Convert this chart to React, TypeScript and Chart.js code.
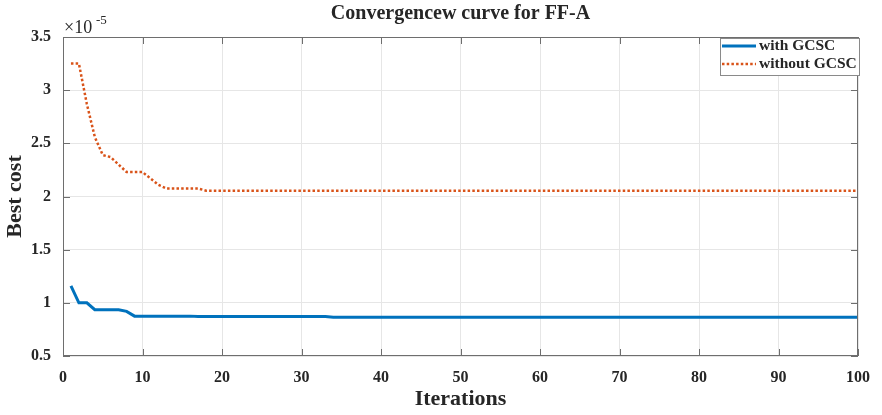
import React, { useEffect, useRef } from "react";
import { Chart, registerables } from "chart.js";

Chart.register(...registerables);

// Best cost per iteration, in units of 1e-5
const ITERATIONS: number[] = Array.from({ length: 100 }, (_, i) => i + 1);

const WITH_GCSC: number[] = [
  1.16, 1.0, 1.0, 0.935, 0.935, 0.935, 0.935, 0.92, 0.875, 0.875,
  0.875, 0.875, 0.875, 0.875, 0.875, 0.875, 0.872, 0.872, 0.872, 0.872,
  0.872, 0.872, 0.872, 0.872, 0.872, 0.872, 0.872, 0.872, 0.872, 0.872,
  0.872, 0.872, 0.872, 0.865, 0.865, 0.865, 0.865, 0.865, 0.865, 0.865,
  0.865, 0.865, 0.865, 0.865, 0.865, 0.865, 0.865, 0.865, 0.865, 0.865,
  0.865, 0.865, 0.865, 0.865, 0.865, 0.865, 0.865, 0.865, 0.865, 0.865,
  0.865, 0.865, 0.865, 0.865, 0.865, 0.865, 0.865, 0.865, 0.865, 0.865,
  0.865, 0.865, 0.865, 0.865, 0.865, 0.865, 0.865, 0.865, 0.865, 0.865,
  0.865, 0.865, 0.865, 0.865, 0.865, 0.865, 0.865, 0.865, 0.865, 0.865,
  0.865, 0.865, 0.865, 0.865, 0.865, 0.865, 0.865, 0.865, 0.865, 0.865,
];

const WITHOUT_GCSC: number[] = [
  3.25, 3.25, 2.87, 2.56, 2.39, 2.37, 2.3, 2.23, 2.23, 2.23,
  2.17, 2.11, 2.075, 2.075, 2.075, 2.075, 2.075, 2.055, 2.055, 2.055,
  2.055, 2.055, 2.055, 2.055, 2.055, 2.055, 2.055, 2.055, 2.055, 2.055,
  2.055, 2.055, 2.055, 2.055, 2.055, 2.055, 2.055, 2.055, 2.055, 2.055,
  2.055, 2.055, 2.055, 2.055, 2.055, 2.055, 2.055, 2.055, 2.055, 2.055,
  2.055, 2.055, 2.055, 2.055, 2.055, 2.055, 2.055, 2.055, 2.055, 2.055,
  2.055, 2.055, 2.055, 2.055, 2.055, 2.055, 2.055, 2.055, 2.055, 2.055,
  2.055, 2.055, 2.055, 2.055, 2.055, 2.055, 2.055, 2.055, 2.055, 2.055,
  2.055, 2.055, 2.055, 2.055, 2.055, 2.055, 2.055, 2.055, 2.055, 2.055,
  2.055, 2.055, 2.055, 2.055, 2.055, 2.055, 2.055, 2.055, 2.055, 2.055,
];

const X_TICKS: number[] = [0, 10, 20, 30, 40, 50, 60, 70, 80, 90, 100];
const Y_TICKS: number[] = [0.5, 1, 1.5, 2, 2.5, 3, 3.5];

const SERIES_NAMES = ["with GCSC", "without GCSC"];
const TITLE = "Convergencew curve for FF-A";
const X_LABEL = "Iterations";
const Y_LABEL = "Best cost";

const BLUE = "#0072BD";
const ORANGE = "#D95319";
const SERIF = "'Liberation Serif', 'Times New Roman', serif";
const INK = "#262626";
const FRAME = "#6e6e6e";

const decorations = {
  id: "decorations",
  afterDatasetsDraw(chart: any) {
    const { ctx, chartArea } = chart;
    const { left, right, top, bottom } = chartArea;
    const xs = chart.scales.x;
    const ys = chart.scales.y;
    ctx.save();

    // axes box
    ctx.strokeStyle = FRAME;
    ctx.lineWidth = 1;
    ctx.strokeRect(left + 0.5, top + 0.5, right - left - 1, bottom - top - 1);

    // inward tick marks on every side
    const len = 7;
    ctx.beginPath();
    for (const v of X_TICKS) {
      const px = Math.round(xs.getPixelForValue(v)) + 0.5;
      ctx.moveTo(px, bottom);
      ctx.lineTo(px, bottom - len);
      ctx.moveTo(px, top);
      ctx.lineTo(px, top + len);
    }
    for (const v of Y_TICKS) {
      const py = Math.round(ys.getPixelForValue(v)) + 0.5;
      ctx.moveTo(left, py);
      ctx.lineTo(left + len, py);
      ctx.moveTo(right, py);
      ctx.lineTo(right - len, py);
    }
    ctx.stroke();

    // legend
    const bx = 720, by = 38, bw = 139, bh = 37;
    ctx.fillStyle = "#ffffff";
    ctx.fillRect(bx, by, bw, bh);
    ctx.strokeStyle = "#8a8a8a";
    ctx.strokeRect(bx + 0.5, by + 0.5, bw, bh);
    const rows = [
      { y: 46, color: BLUE, dash: [] as number[], width: 3 },
      { y: 64, color: ORANGE, dash: [2.5, 2.2], width: 2.5 },
    ];
    rows.forEach((r, i) => {
      ctx.beginPath();
      ctx.setLineDash(r.dash);
      ctx.strokeStyle = r.color;
      ctx.lineWidth = r.width;
      ctx.moveTo(722, r.y);
      ctx.lineTo(756, r.y);
      ctx.stroke();
      ctx.setLineDash([]);
      ctx.fillStyle = INK;
      ctx.font = `bold 15.5px ${SERIF}`;
      ctx.textAlign = "left";
      ctx.textBaseline = "middle";
      ctx.fillText(SERIES_NAMES[i], 759, r.y);
    });

    // title and axis labels
    const cx = (left + right) / 2;
    ctx.fillStyle = INK;
    ctx.textAlign = "center";
    ctx.textBaseline = "middle";
    ctx.font = `bold 20px ${SERIF}`;
    ctx.fillText(TITLE, cx, 14);
    ctx.font = `bold 22px ${SERIF}`;
    ctx.fillText(X_LABEL, cx, 399);
    ctx.save();
    ctx.translate(15, (top + bottom) / 2);
    ctx.rotate(-Math.PI / 2);
    ctx.fillText(Y_LABEL, 0, 0);
    ctx.restore();

    // exponent marker
    ctx.textAlign = "left";
    ctx.textBaseline = "alphabetic";
    ctx.font = `18px ${SERIF}`;
    ctx.fillText("\u00d710", 64, 33);
    ctx.font = `13px ${SERIF}`;
    ctx.fillText("-5", 96, 24);

    ctx.restore();
  },
};

export default function App() {
  const canvasRef = useRef<HTMLCanvasElement | null>(null);

  useEffect(() => {
    if (!canvasRef.current) return;
    const tickFont = { family: SERIF, size: 16, weight: "bold" as const };
    const chart = new Chart(canvasRef.current, {
      type: "line",
      data: {
        datasets: [
          {
            label: SERIES_NAMES[0],
            data: ITERATIONS.map((x, i) => ({ x, y: WITH_GCSC[i] })),
            borderColor: BLUE,
            borderWidth: 3,
            pointRadius: 0,
            tension: 0,
          },
          {
            label: SERIES_NAMES[1],
            data: ITERATIONS.map((x, i) => ({ x, y: WITHOUT_GCSC[i] })),
            borderColor: ORANGE,
            borderWidth: 2.5,
            borderDash: [2.5, 2.2],
            borderCapStyle: "butt",
            pointRadius: 0,
            tension: 0,
          },
        ],
      },
      options: {
        animation: false,
        responsive: false,
        maintainAspectRatio: false,
        layout: { padding: { top: 37, right: 22, left: 0, bottom: 0 } },
        plugins: {
          legend: { display: false },
          title: { display: false },
          tooltip: { enabled: false },
        },
        scales: {
          x: {
            type: "linear",
            min: 0,
            max: 100,
            afterBuildTicks: (s: any) => {
              s.ticks = X_TICKS.map((value) => ({ value }));
            },
            afterFit: (s: any) => {
              s.height = 59;
            },
            grid: { color: "#e6e6e6", drawTicks: false },
            border: { display: false },
            ticks: { font: tickFont, color: INK, padding: 12, maxRotation: 0 },
          },
          y: {
            type: "linear",
            min: 0.5,
            max: 3.5,
            afterBuildTicks: (s: any) => {
              s.ticks = Y_TICKS.map((value) => ({ value }));
            },
            afterFit: (s: any) => {
              s.width = 63;
            },
            grid: { color: "#e6e6e6", drawTicks: false },
            border: { display: false },
            ticks: {
              font: tickFont,
              color: INK,
              padding: 12,
              callback: (v: any) => String(v),
            },
          },
        },
      },
      plugins: [decorations],
    });
    return () => chart.destroy();
  }, []);

  return (
    <div style={{ position: "fixed", left: 0, top: 0, width: 882, height: 415, background: "#fff" }}>
      <canvas ref={canvasRef} width={882} height={415} style={{ display: "block" }} />
    </div>
  );
}
